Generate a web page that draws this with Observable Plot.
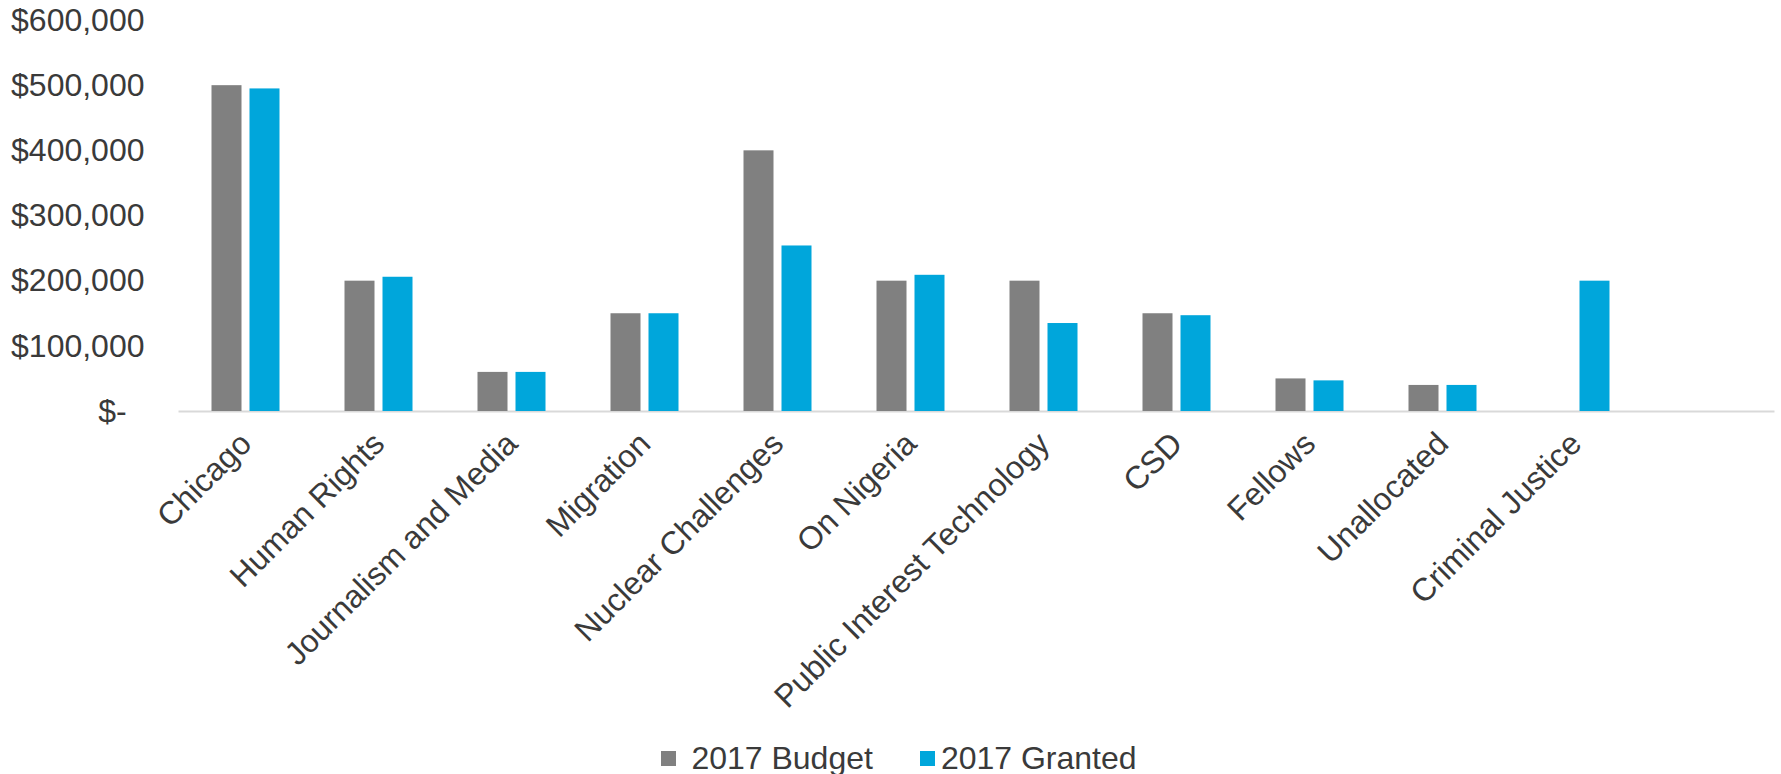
<!DOCTYPE html>
<html>
<head>
<meta charset="utf-8">
<script src="https://cdn.jsdelivr.net/npm/d3@7"></script>
<script src="https://cdn.jsdelivr.net/npm/@observablehq/plot@0.6"></script>
<style>
  html, body { margin: 0; padding: 0; background: #fff; overflow: hidden; }
  body { font-family: "Liberation Sans", Arial, sans-serif; color: #3a3a3a; }
  #legend {
    display: flex; justify-content: center; align-items: center;
    height: 32px; font-size: 32px; line-height: 32px;
    padding-left: 17px; white-space: nowrap;
  }
  #legend .item { display: flex; align-items: center; }
  #legend .swatch { width: 15px; height: 15px; display: inline-block; }
</style>
</head>
<body>
<div id="chart"></div>
<div id="legend"></div>
<script>
// Program areas, in display order
const programs = [
  "Chicago", "Human Rights", "Journalism and Media", "Migration",
  "Nuclear Challenges", "On Nigeria", "Public Interest Technology",
  "CSD", "Fellows", "Unallocated", "Criminal Justice"
];
// 2017 budget per program (no budget line for Criminal Justice)
const budget2017 = [500000, 200000, 60000, 150000, 400000, 200000, 200000, 150000, 50000, 40000, null];
// 2017 grants actually made per program
const granted2017 = [495000, 206000, 60000, 150000, 254000, 209000, 135000, 147000, 47000, 40000, 200000];

const seriesNames = ["2017 Budget", "2017 Granted"];
const seriesColors = ["#808080", "#00a6db"];
const yTicks = [0, 100000, 200000, 300000, 400000, 500000, 600000];

// The category axis keeps one trailing empty slot after the last program
const slots = [...programs, " "];

const budgetRows = programs
  .map((p, i) => ({program: p, series: seriesNames[0], value: budget2017[i]}))
  .filter(d => d.value != null);
const grantedRows = programs
  .map((p, i) => ({program: p, series: seriesNames[1], value: granted2017[i]}))
  .filter(d => d.value != null);

const money = d3.format(",");
const tickFormat = d => d === 0 ? "$-\u2007" : "$" + money(d);

// Each category band holds a pair of bars: budget on the left, granted on the right
const pairInset = {outer: 32.5, inner: 70.5};

const chart = Plot.plot({
  width: 1781,
  height: 742,
  marginLeft: 178.5,
  marginRight: 6.5,
  marginTop: 20,
  marginBottom: 331,
  style: {
    fontFamily: "'Liberation Sans', Arial, sans-serif",
    fontSize: "32px",
    color: "#3a3a3a",
    background: "#fff",
    overflow: "visible"
  },
  x: {domain: slots, padding: 0, label: null, tickRotate: -45, tickSize: 0, tickPadding: 27},
  y: {domain: [0, 600000], ticks: yTicks, tickFormat, tickSize: 0, tickPadding: 34.5, label: null},
  color: {domain: seriesNames, range: seriesColors},
  marks: [
    Plot.ruleY([0], {stroke: "#d9d9d9", strokeWidth: 2}),
    Plot.barY(budgetRows, {
      x: "program", y: "value", fill: "series",
      insetLeft: pairInset.outer, insetRight: pairInset.inner
    }),
    Plot.barY(grantedRows, {
      x: "program", y: "value", fill: "series",
      insetLeft: pairInset.inner, insetRight: pairInset.outer
    })
  ]
});
document.getElementById("chart").appendChild(chart);

// Legend below the plot
const legend = d3.select("#legend");
const gaps = [15, 5.5];
seriesNames.forEach((name, i) => {
  const item = legend.append("div").attr("class", "item")
    .style("margin-left", i === 0 ? "0px" : "47.5px");
  item.append("span").attr("class", "swatch").style("background", seriesColors[i]);
  item.append("span").style("margin-left", gaps[i] + "px").text(name);
});
</script>
</body>
</html>
